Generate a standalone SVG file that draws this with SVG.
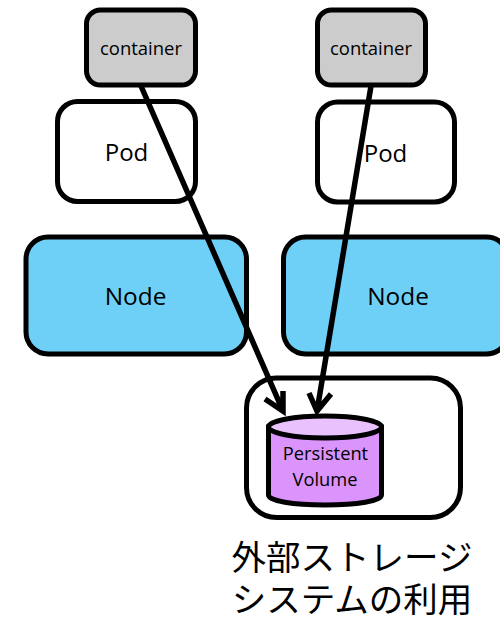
<svg xmlns="http://www.w3.org/2000/svg" width="500" height="617" viewBox="0 0 500 617">
<style>
.b{stroke:#000;stroke-width:5}
.t{font-family:"Open Sans","Noto Sans CJK JP",sans-serif;fill:#000;text-anchor:middle}
.c{fill:#cccccc}
.w{fill:#fff}
.n{fill:#6fd0f7}
.a{fill:none;stroke:#000;stroke-width:5.5}
</style>
<rect width="500" height="617" fill="#fff"/>
<g id="container1"><rect class="b c" x="86.5" y="10" width="109" height="75" rx="14"/><text class="t" x="141" y="55" font-size="18.6" textLength="82" lengthAdjust="spacingAndGlyphs">container</text></g>
<g id="pod1"><rect class="b w" x="57.500" y="101.5" width="138" height="100" rx="20"/><text class="t" x="126.500" y="161" font-size="24">Pod</text></g>
<g id="container2"><rect class="b c" x="317.5" y="10" width="108" height="75" rx="14"/><text class="t" x="371" y="55" font-size="18.6" textLength="82" lengthAdjust="spacingAndGlyphs">container</text></g>
<g id="pod2"><rect class="b w" x="317.5" y="102" width="137" height="100" rx="20"/><text class="t" x="385.500" y="162" font-size="24">Pod</text></g>
<g id="node1"><rect class="b n" x="26" y="237" width="220.5" height="117" rx="22"/><text class="t" x="135.500" y="305" font-size="24.400">Node</text></g>
<g id="node2"><rect class="b n" x="283.500" y="237" width="225" height="117" rx="22"/><text class="t" x="398" y="305" font-size="24.400">Node</text></g>
<g id="storage"><rect class="b w" x="246.500" y="378" width="214" height="139.500" rx="30"/></g>
<g id="volume">
<path class="b" fill="#da94fb" d="M268.500 427V495C268.500 501 293 505 325 505S381.500 501 381.500 495V427Z"/>
<ellipse class="b" fill="#e9c2fd" cx="325" cy="427" rx="56.500" ry="11"/>
<text class="t" x="325.500" y="460" font-size="18.300">Persistent</text>
<text class="t" x="325" y="485.500" font-size="18.300">Volume</text>
</g>
<g id="connectors">
<path class="a" d="M141 86L283 411M265 399L283 411L283 391"/>
<path class="a" d="M371 86L317 411M309 393L317 411L331 394"/>
</g>
<g id="caption">
<text class="t" font-size="34.500"><tspan x="352" y="570">外部ストレージ</tspan><tspan x="352" y="612">システムの利用</tspan></text>
</g>
</svg>
